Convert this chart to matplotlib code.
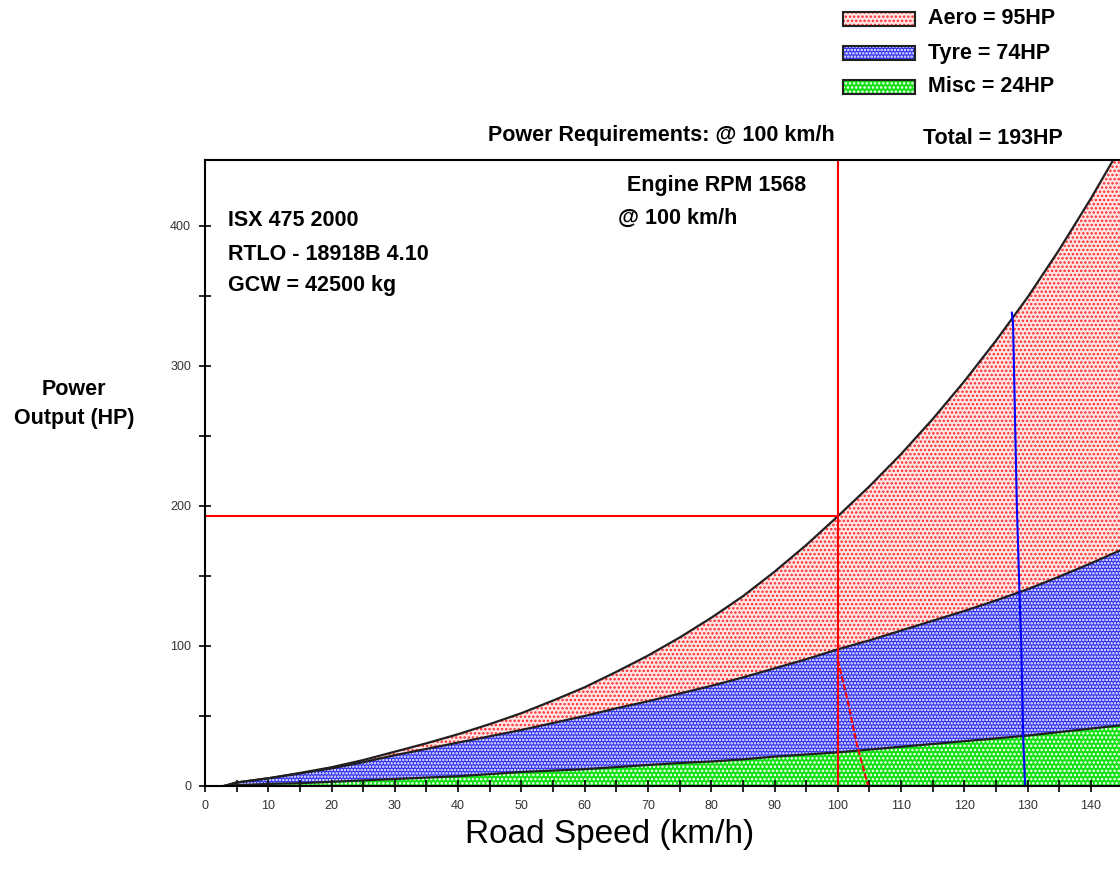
import matplotlib
matplotlib.use("Agg")
import matplotlib.pyplot as plt
from matplotlib.patches import Rectangle
import numpy as np

# road speed (km/h) and power components (HP)
speed = [3, 5, 10, 15, 20, 25, 30, 35, 40, 45, 50, 55, 60, 65, 70, 75,
         80, 85, 90, 95, 100, 105, 110, 115, 120, 125, 130, 135, 140, 145]
misc = [0, 0.5, 1.5, 2, 3, 4, 5, 6, 7, 8.5, 10, 11, 12, 13.5, 15, 16.4,
        17.5, 19, 21, 22.5, 24, 26, 28, 30, 32, 34, 36, 38.5, 41, 43.5]
tyre = [0, 2, 4, 7, 9.6, 13, 17, 20.5, 24, 27, 30, 34, 38, 42, 45.5, 49.6,
        54, 58.5, 63, 68, 73.6, 78, 83, 88, 93, 98.5, 104.5, 111, 118, 125.5]
aero = [0, 0, 0, 0.3, 0.8, 1.5, 2.5, 4, 6, 8.7, 12, 16, 20.5, 26, 32.6, 40,
        48.6, 58, 69, 81.5, 95, 110, 126, 144, 164, 185.5, 208.5, 233.5, 260.5, 289.5]

legend_labels = ["Aero = 95HP", "Tyre = 74HP", "Misc = 24HP"]

# operating point and the two overlaid traces
op_speed = 100
op_power = 193
red_trace_x = [100, 101.5, 103, 104.8]
red_trace_y = [90, 62, 30, 0]
blue_trace_x = [127.5, 127.7, 128.0, 128.3, 128.7, 129.0, 129.3, 129.6]
blue_trace_y = [338, 330, 265, 200, 140, 100, 35, 0]

plt.rcParams['font.family'] = ['Liberation Sans', 'DejaVu Sans']
plt.rcParams['hatch.linewidth'] = 1.2

s = np.array(speed)
m = np.array(misc)
mt = m + np.array(tyre)
tot = mt + np.array(aero)

fills = [  # face, hatch colour, hatch
    ('#ffe6e6', '#ff2a2a', '....'),   # aero
    ('#3030f0', 'white', '.....'),    # tyre
    ('#10e010', 'white', '....'),     # misc
]

fig = plt.figure(figsize=(11.2, 8.77), dpi=100)
ax = fig.add_axes([205 / 1120, 91 / 877, 915 / 1120, 626 / 877])

for lo, hi, (fc, hc, ht) in ((0, m, fills[2]), (m, mt, fills[1]), (mt, tot, fills[0])):
    ax.fill_between(s, lo, hi, facecolor=fc, edgecolor=hc, hatch=ht, linewidth=0)
for yy in (m, mt, tot):
    ax.plot(s, yy, color='#202020', lw=1.6)

ax.axvline(op_speed, color='#ff0000', lw=1.5)
ax.plot([0, op_speed], [op_power, op_power], color='#ff0000', lw=1.5)
ax.plot(red_trace_x, red_trace_y, color='#ff0000', lw=1.5, ls=(0, (3, 1)))
ax.plot(blue_trace_x, blue_trace_y, color='#0000ff', lw=1.5)

ax.set_xlim(0, 144.6)
ax.set_ylim(0, 447)
ax.set_xticks(range(0, 141, 10))
ax.set_xticks(range(5, 145, 10), minor=True)
ax.set_yticks(range(0, 401, 100))
ax.set_yticks(range(50, 447, 100), minor=True)
ax.tick_params(which='both', direction='inout', length=8, width=1.2, labelsize=9,
               labelcolor='#333333')
ax.tick_params(axis='x', pad=6)
ax.tick_params(axis='y', pad=6)
ax.spines['right'].set_visible(False)
for sp in ('left', 'bottom', 'top'):
    ax.spines[sp].set_linewidth(1.5)

bold = dict(fontweight='bold', fontsize=15.5, color='black')
ax.text(0.025, 0.903, "ISX 475 2000", transform=ax.transAxes, va='center', **bold)
ax.text(0.025, 0.849, "RTLO - 18918B 4.10", transform=ax.transAxes, va='center', **bold)
ax.text(0.025, 0.799, "GCW = 42500 kg", transform=ax.transAxes, va='center', **bold)
ax.text(0.461, 0.960, "Engine RPM 1568", transform=ax.transAxes, va='center', **bold)
ax.text(0.451, 0.907, "@ 100 km/h", transform=ax.transAxes, va='center', **bold)

fig.text(661 / 1120, 1 - 136 / 877, "Power Requirements: @ 100 km/h", ha='center', va='center', **bold)
fig.text(993 / 1120, 1 - 138 / 877, "Total = 193HP", ha='center', va='center', **bold)
fig.text(74 / 1120, 1 - 404 / 877, "Power\nOutput (HP)", ha='center', va='center',
         linespacing=1.5, **bold)
fig.text(610 / 1120, 1 - 834 / 877, "Road Speed (km/h)", ha='center', va='center', fontsize=24)

# legend drawn by hand: hatched swatch with a black border
for i, (lab, (fc, hc, ht)) in enumerate(zip(legend_labels, fills)):
    yc = 19 + 34 * i
    y0 = 1 - (yc + 7) / 877
    fig.patches.append(Rectangle((843 / 1120, y0), 72 / 1120, 14 / 877, transform=fig.transFigure,
                                 facecolor=fc, edgecolor=hc, hatch=ht, linewidth=0))
    fig.patches.append(Rectangle((843 / 1120, y0), 72 / 1120, 14 / 877, transform=fig.transFigure,
                                 facecolor='none', edgecolor='#202020', linewidth=1.5))
    fig.text(928 / 1120, 1 - yc / 877, lab, ha='left', va='center', **bold)

fig.savefig("out.png", dpi=100)
